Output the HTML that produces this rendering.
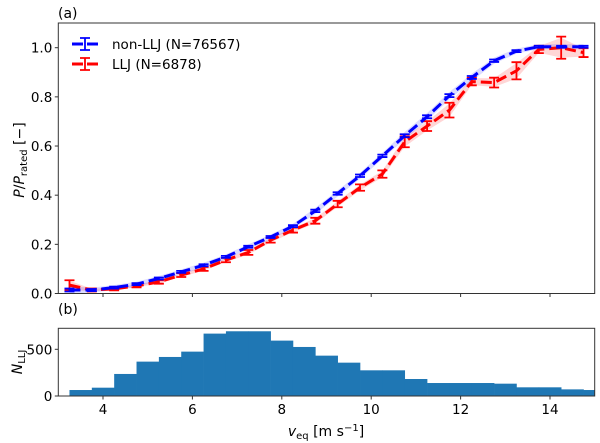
<!DOCTYPE html>
<html><head><meta charset="utf-8"><style>
body{margin:0;background:#fff;width:600px;height:443px;overflow:hidden}
svg{display:block;font-family:"DejaVu Sans","Liberation Sans",sans-serif}
</style></head><body>
<svg id="chart" width="600" height="443" viewBox="0 0 600 443">
<text x="58" y="18" font-size="14">(a)</text>
<text x="58" y="314" font-size="14">(b)</text>
<g id="topPanel"></g>
<g id="botPanel"></g>
<text transform="translate(24,160) rotate(-90)" text-anchor="middle" font-size="14"><tspan font-style="italic">P</tspan>/<tspan font-style="italic">P</tspan><tspan font-size="10" dy="3">rated</tspan><tspan dy="-3"> [−]</tspan></text>
<text transform="translate(22,362) rotate(-90)" text-anchor="middle" font-size="14"><tspan font-style="italic">N</tspan><tspan font-size="10" dy="3">LLJ</tspan></text>
<text x="326" y="436" text-anchor="middle" font-size="14"><tspan font-style="italic">v</tspan><tspan font-size="10" dy="3">eq</tspan><tspan dy="-3"> [m s</tspan><tspan font-size="10" dy="-5">−1</tspan><tspan dy="5">]</tspan></text>
</svg>
<script>
const windSpeeds=[3.25,3.75,4.25,4.75,5.25,5.75,6.25,6.75,7.25,7.75,8.25,8.75,9.25,9.75,10.25,10.75,11.25,11.75,12.25,12.75,13.25,13.75,14.25,14.75];
const nonLljPower=[0.014,0.014,0.024,0.038,0.061,0.088,0.115,0.149,0.19,0.23,0.274,0.336,0.407,0.479,0.56,0.642,0.719,0.805,0.879,0.947,0.986,1.004,1.004,1.004];
const nonLljErr=[0.006,0.004,0.004,0.004,0.004,0.004,0.004,0.004,0.004,0.004,0.004,0.005,0.005,0.005,0.005,0.006,0.006,0.006,0.006,0.005,0.004,0.004,0.004,0.004];
const lljPower=[0.034,0.014,0.019,0.031,0.047,0.075,0.10,0.136,0.167,0.217,0.258,0.296,0.364,0.431,0.486,0.617,0.681,0.746,0.862,0.858,0.906,0.993,1.0,0.98];
const lljErr=[0.02,0.006,0.006,0.006,0.007,0.008,0.008,0.009,0.01,0.01,0.01,0.012,0.013,0.013,0.015,0.022,0.02,0.03,0.015,0.02,0.035,0.015,0.045,0.018];
const histCenters=[3.5,4.0,4.5,5.0,5.5,6.0,6.5,7.0,7.5,8.0,8.5,9.0,9.5,10.0,10.5,11.0,11.5,12.0,12.5,13.0,13.5,14.0,14.5,15.0];
const histCounts=[64,89,236,368,418,475,668,693,693,593,525,432,357,275,275,182,139,139,139,132,93,93,71,64];
const xTicks=[4,6,8,10,12,14];
const yTicks=[0,0.2,0.4,0.6,0.8,1.0];
const hTicks=[0,500];

const NS="http://www.w3.org/2000/svg";
const X0=58.3,X1=594.7;
const HB=396,HT=328.3;
const xs=v=>X0+(v-3)/12*(X1-X0);
const ys=v=>293.5-v*245.8;
const hs=v=>HB-v/500*46.7;
function mk(p,t,a){const e=document.createElementNS(NS,t);for(const k in a)e.setAttribute(k,a[k]);p.appendChild(e);return e;}
const topG=document.getElementById('topPanel'),botG=document.getElementById('botPanel');
const cp=mk(topG,'clipPath',{id:'cpa'});mk(cp,'rect',{x:X0,y:23,width:X1-X0,height:271});
const cpb=mk(botG,'clipPath',{id:'cpb'});mk(cpb,'rect',{x:X0,y:HT,width:X1-X0,height:HB-HT});
const pa=mk(topG,'g',{'clip-path':'url(#cpa)'});
function band(vals,errs,color,name){
  let up=windSpeeds.map((w,i)=>xs(w)+','+ys(vals[i]+errs[i]));
  let dn=windSpeeds.map((w,i)=>xs(w)+','+ys(vals[i]-errs[i])).reverse();
  const b=mk(pa,'polygon',{points:up.concat(dn).join(' '),fill:color});
  
  
}
band(lljPower,lljErr.map(e=>e*0.9),'rgba(255,0,0,0.16)','llj-uncertainty-band');
band(nonLljPower,nonLljErr.map(e=>e*2.5),'rgba(0,0,255,0.14)','non-llj-uncertainty-band');
function series(vals,errs,color,name){
  const g=mk(pa,'g',{});
  
  
  mk(g,'polyline',{points:windSpeeds.map((w,i)=>xs(w)+','+ys(vals[i])).join(' '),fill:'none',stroke:color,'stroke-width':3,'stroke-dasharray':'11,5'});
  windSpeeds.forEach((w,i)=>{
    const x=xs(w),a=ys(vals[i]+errs[i]),b=ys(vals[i]-errs[i]);
    const eb=mk(g,'path',{d:`M${x},${a}V${b}M${x-5},${a}H${x+5}M${x-5},${b}H${x+5}`,stroke:color,'stroke-width':1.8,fill:'none'});
    
    
  });
}
series(lljPower,lljErr,'#ff0000','llj-series');
series(nonLljPower,nonLljErr,'#0000ff','non-llj-series');
mk(topG,'rect',{x:X0,y:23,width:X1-X0,height:270.5,fill:'none',stroke:'#333','stroke-width':1});
xTicks.forEach(t=>{mk(topG,'line',{x1:xs(t),x2:xs(t),y1:293.5,y2:297,stroke:'#333'});});
yTicks.forEach(t=>{mk(topG,'line',{x1:X0-3.5,x2:X0,y1:ys(t),y2:ys(t),stroke:'#333'});
  const tx=mk(topG,'text',{x:X0-6,y:ys(t)+5,'text-anchor':'end','font-size':13.5});tx.textContent=t.toFixed(1);
  
  });
const lg=mk(topG,'g',{});


[['#0000ff','non-LLJ (N=76567)',44],['#ff0000','LLJ (N=6878)',64]].forEach(([c,l,y])=>{
  mk(lg,'path',{d:`M72,${y}H98`,stroke:c,'stroke-width':3,'stroke-dasharray':'11,4'});
  mk(lg,'path',{d:`M85,${y-6}V${y+6}M80,${y-6}H90M80,${y+6}H90`,stroke:c,'stroke-width':1.8});
  const t=mk(lg,'text',{x:112,y:y+5,'font-size':13.5});t.textContent=l;
  
  
});
const pb=mk(botG,'g',{'clip-path':'url(#cpb)'});
histCenters.forEach((c,i)=>{
  const r=mk(pb,'rect',{x:xs(c-0.25),y:hs(histCounts[i]),width:xs(c+0.25)-xs(c-0.25)+0.3,height:HB-hs(histCounts[i]),fill:'#1f77b4'});
  
  
});
mk(botG,'rect',{x:X0,y:HT,width:X1-X0,height:HB-HT,fill:'none',stroke:'#333','stroke-width':1});
xTicks.forEach(t=>{mk(botG,'line',{x1:xs(t),x2:xs(t),y1:HB,y2:HB+3.5,stroke:'#333'});
  const tx=mk(botG,'text',{x:xs(t),y:414,'text-anchor':'middle','font-size':13.5});tx.textContent=t;
  
  });
hTicks.forEach(t=>{mk(botG,'line',{x1:X0-3.5,x2:X0,y1:hs(t),y2:hs(t),stroke:'#333'});
  const tx=mk(botG,'text',{x:X0-6,y:hs(t)+5,'text-anchor':'end','font-size':13.5});tx.textContent=t;
  
  });
</script>
</body></html>
